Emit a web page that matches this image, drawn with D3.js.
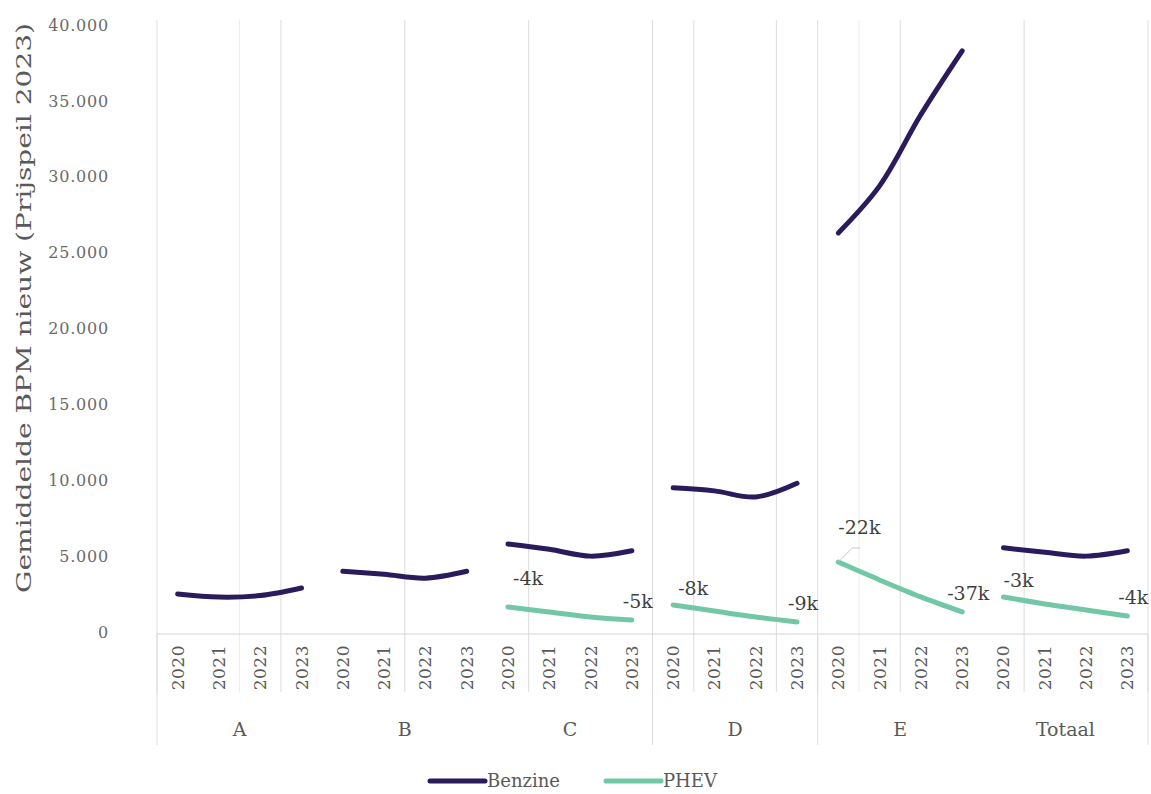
<!DOCTYPE html>
<html>
<head>
<meta charset="utf-8">
<script src="https://cdn.jsdelivr.net/npm/d3@7"></script>
<style>
  html, body { margin: 0; padding: 0; background: #ffffff; }
  svg { display: block; }
  text { font-family: "DejaVu Serif", "Liberation Serif", serif; }
</style>
</head>
<body>
<svg id="chart" width="1151" height="794"></svg>
<script>
// ---------- data ----------
const groups = ["A", "B", "C", "D", "E", "Totaal"];
const years = ["2020", "2021", "2022", "2023"];
const yTicks = [0, 5000, 10000, 15000, 20000, 25000, 30000, 35000, 40000];

// Benzine, one array per group (2020..2023)
const benzine = [
  [2500, 2300, 2400, 2900],
  [4000, 3800, 3550, 4000],
  [5800, 5450, 5000, 5350],
  [9500, 9300, 8900, 9800],
  [26300, 29400, 34100, 38300],
  [5550, 5250, 5000, 5350]
];
// PHEV (no values for A and B)
const phev = [
  null,
  null,
  [1650, 1320, 990, 790],
  [1780, 1380, 990, 660],
  [4610, 3430, 2310, 1320],
  [2310, 1850, 1450, 1050]
];
const phevStartLabels = [null, null, "-4k", "-8k", "-22k", "-3k"];
const phevEndLabels = [null, null, "-5k", "-9k", "-37k", "-4k"];
const seriesNames = ["Benzine", "PHEV"];

// ---------- layout ----------
const colors = { Benzine: "#2b1b5c", PHEV: "#72c7a7" };
const svg = d3.select("#chart");
const pLeft = 157, pRight = 1148, pTop = 25, pBottom = 632, axisY = 634;

const keys = [];
groups.forEach(g => years.forEach(yr => keys.push(g + "|" + yr)));

const x = d3.scaleBand().domain(keys).range([pLeft, pRight]).padding(0);
const xc = k => x(k) + x.bandwidth() / 2;
const y = d3.scaleLinear().domain([0, 40000]).range([pBottom, pTop]);
const boundary = i => pLeft + i * x.step();

const nl = d3.formatLocale({ decimal: ",", thousands: ".", grouping: [3], currency: ["", ""] });
const fmt = nl.format(",");

// vertical gridlines (as in reference)
const gridIdx = [0, 2, 3, 6, 9, 12, 13, 15, 16, 17, 18, 21, 24];
svg.append("g").selectAll("line").data(gridIdx).join("line")
  .attr("x1", d => boundary(d)).attr("x2", d => boundary(d))
  .attr("y1", pTop - 5).attr("y2", axisY + 58)
  .attr("stroke", d => (d === 2 || d === 17) ? "#ececec" : "#dcdcdc")
  .attr("stroke-width", 1);

// group separators in bottom row
const groupSepIdx = [0, 12, 16, 24];
svg.append("g").selectAll("line").data(groupSepIdx).join("line")
  .attr("x1", d => boundary(d)).attr("x2", d => boundary(d))
  .attr("y1", axisY).attr("y2", 745)
  .attr("stroke", "#dcdcdc").attr("stroke-width", 1);

// x axis line
svg.append("line").attr("x1", pLeft).attr("x2", pRight)
  .attr("y1", axisY).attr("y2", axisY)
  .attr("stroke", "#d4d4d4").attr("stroke-width", 1);

// y axis
const yAxis = d3.axisLeft(y).tickValues(yTicks).tickFormat(fmt).tickSize(0).tickPadding(48);
const gy = svg.append("g").attr("transform", `translate(${pLeft},0)`).call(yAxis);
gy.select(".domain").remove();
gy.selectAll("text")
  .attr("fill", "#6a6a6a")
  .style("font-size", "16px")
  .style("font-family", "'DejaVu Serif', serif")
  .style("letter-spacing", "0.8px");

// y axis title
svg.append("text")
  .attr("transform", `translate(31,308) rotate(-90)`)
  .attr("text-anchor", "middle")
  .attr("fill", "#595959")
  .attr("textLength", 570)
  .attr("lengthAdjust", "spacingAndGlyphs")
  .style("font-size", "21px")
  .text("Gemiddelde BPM nieuw (Prijspeil 2023)");

// year labels
svg.append("g").selectAll("text").data(keys).join("text")
  .attr("transform", d => `translate(${xc(d) + 6},645) rotate(-90)`)
  .attr("text-anchor", "end")
  .attr("fill", "#595959")
  .style("font-size", "17px")
  .style("letter-spacing", "0.5px")
  .text(d => d.split("|")[1]);

// group labels
svg.append("g").selectAll("text").data(groups).join("text")
  .attr("x", g => (xc(g + "|2020") + xc(g + "|2023")) / 2)
  .attr("y", 736)
  .attr("text-anchor", "middle")
  .attr("fill", "#595959")
  .style("font-size", "19px")
  .text(g => g);

// lines
const line = d3.line()
  .x(d => xc(d.key)).y(d => y(d.v))
  .curve(d3.curveCatmullRom.alpha(0.5));

const toPts = (g, arr) => arr.map((v, i) => ({ key: g + "|" + years[i], v }));

groups.forEach((g, gi) => {
  svg.append("path")
    .attr("d", line(toPts(g, benzine[gi])))
    .attr("fill", "none")
    .attr("stroke", colors.Benzine)
    .attr("stroke-width", 5)
    .attr("stroke-linecap", "round");
  if (phev[gi]) {
    svg.append("path")
      .attr("d", line(toPts(g, phev[gi])))
      .attr("fill", "none")
      .attr("stroke", colors.PHEV)
      .attr("stroke-width", 5)
      .attr("stroke-linecap", "round");
  }
});

// PHEV labels
const lift = { C: 12, E: 18 };
groups.forEach((g, gi) => {
  if (!phev[gi]) return;
  const x0 = xc(g + "|2020"), y0 = y(phev[gi][0]);
  const x3 = xc(g + "|2023"), y3 = y(phev[gi][3]);
  const extra = lift[g] || 0;
  let sx = x0 + 5, sy = y0 - 10 - extra;
  if (g === "E" || g === "Totaal") sx = x0;
  if (g === "E") {
    svg.append("path")
      .attr("d", `M${x0},${y0} L${x0 + 14},${y0 - 14} L${x0 + 22},${y0 - 14}`)
      .attr("fill", "none").attr("stroke", "#c8c8c8").attr("stroke-width", 1);
  }
  svg.append("text")
    .attr("x", sx).attr("y", sy)
    .attr("fill", "#3f3f3f")
    .style("font-size", "19px")
    .text(phevStartLabels[gi]);
  svg.append("text")
    .attr("x", x3 + 6).attr("y", y3 - 12)
    .attr("text-anchor", "middle")
    .attr("fill", "#3f3f3f")
    .style("font-size", "19px")
    .text(phevEndLabels[gi]);
});

// legend
const legend = svg.append("g").attr("transform", "translate(430,781)");
const legX = [0, 176];
seriesNames.forEach((s, i) => {
  const gI = legend.append("g").attr("transform", `translate(${legX[i]},0)`);
  gI.append("line").attr("x1", 0).attr("x2", 55).attr("y1", 0).attr("y2", 0)
    .attr("stroke", colors[s]).attr("stroke-width", 5).attr("stroke-linecap", "round");
  gI.append("text").attr("x", 57).attr("y", 6)
    .attr("fill", "#595959").style("font-size", "18px").text(s);
});
</script>
</body>
</html>
